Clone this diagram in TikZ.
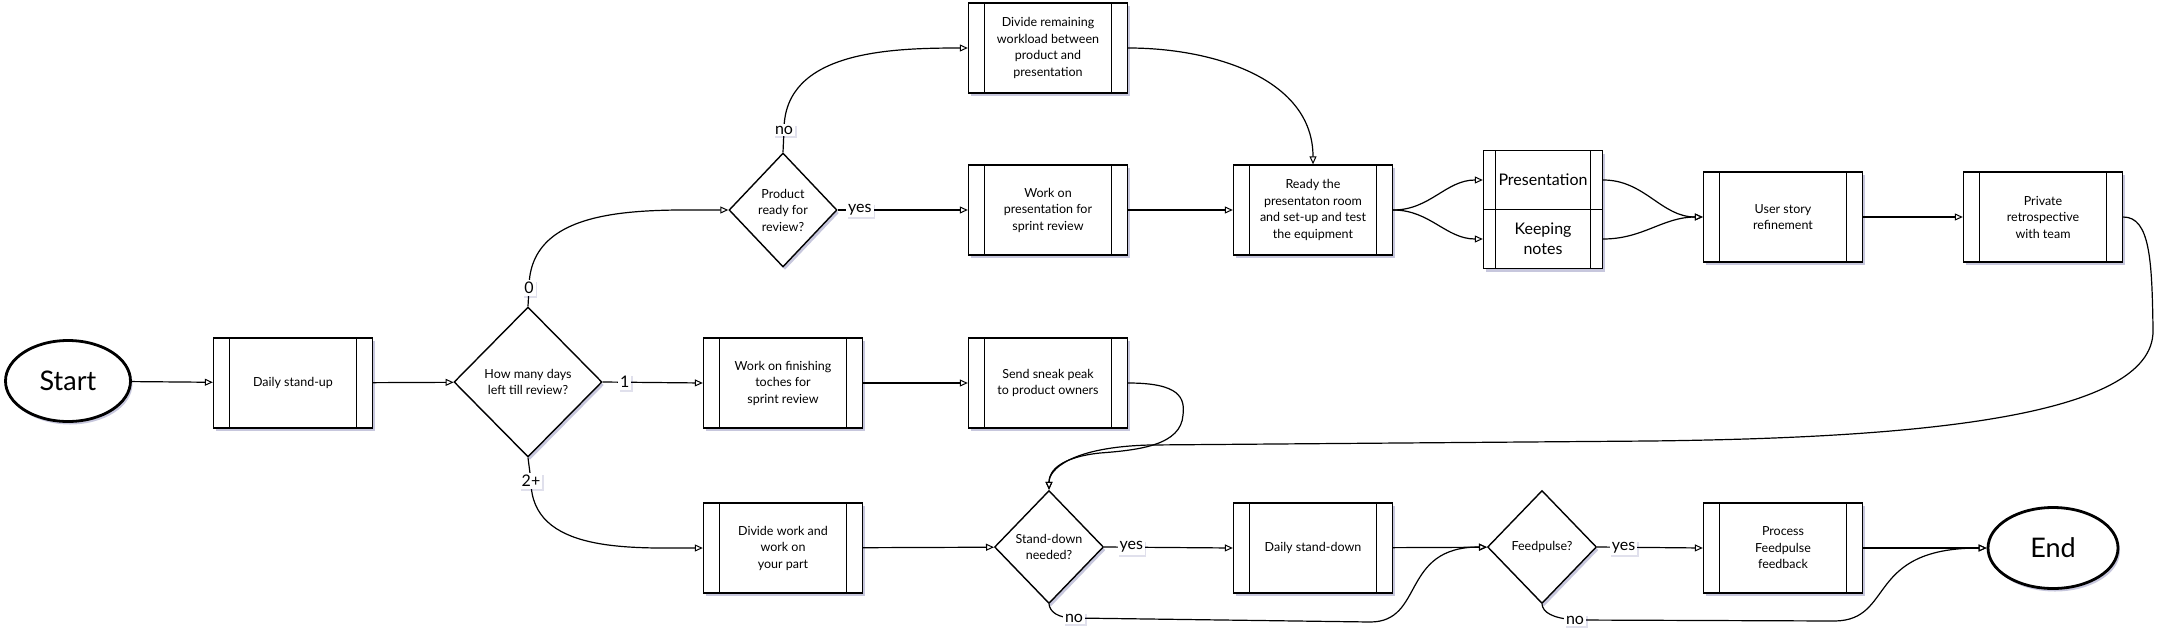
\documentclass[tikz,border=0pt]{standalone}
\usepackage{fontspec}
\setmainfont{Lato}
\usetikzlibrary{arrows.meta,shapes.geometric,shadows,calc}
\begin{document}
\begin{tikzpicture}[x=1pt,y=-1pt,
  shad/.style={drop shadow={shadow xshift=2pt,shadow yshift=-3pt,opacity=0.22,fill=black!60!blue}},
  proc/.style={draw,line width=1.4pt,fill=white,shad,minimum width=159pt,minimum height=90pt,
    inner sep=1pt,align=center,font=\fontsize{12.5}{16.5}\selectfont,
    path picture={
      \draw[line width=1pt] ($(path picture bounding box.north west)!0.1!(path picture bounding box.north east)$) -- ($(path picture bounding box.south west)!0.1!(path picture bounding box.south east)$);
      \draw[line width=1pt] ($(path picture bounding box.north west)!0.9!(path picture bounding box.north east)$) -- ($(path picture bounding box.south west)!0.9!(path picture bounding box.south east)$);
    }},
  smallproc/.style={proc,minimum width=119pt,minimum height=59pt,font=\fontsize{16}{20}\selectfont},
  dec/.style={draw,diamond,line width=1.4pt,fill=white,shad,inner sep=0pt,align=center,font=\fontsize{12.5}{16.5}\selectfont},
  term/.style={draw,ellipse,line width=2.8pt,fill=white,shad,minimum width=125pt,minimum height=81pt,font=\fontsize{27}{30}\selectfont},
  conn/.style={line width=1.2pt,-{Triangle[open,length=8pt,width=7pt,line width=1pt]}},
  lab/.style={fill=white,inner sep=2pt,drop shadow={shadow xshift=1.5pt,shadow yshift=-2pt,opacity=0.12,fill=black!60!blue},font=\fontsize{16}{17}\selectfont}
]
\useasboundingbox[fill=white] (0,0) rectangle (2162,637);

% nodes
\node[term] (start) at (68,381) {Start};
\node[proc] (dsu) at (293,383) {Daily stand-up};
\node[dec,minimum width=148pt,minimum height=150pt] (d1) at (528,382) {How many days\\left till review?};
\node[dec,minimum width=108pt,minimum height=114pt] (d2) at (783,210) {Product\\ready for\\review?};
\node[proc] (divrem) at (1048,48) {Divide remaining\\workload between\\product and\\presentation};
\node[proc] (wp) at (1048,210) {Work on\\presentation for\\sprint review};
\node[proc] (ready) at (1313,210) {Ready the\\presentaton room\\and set-up and test\\the equipment};
\node[smallproc] (pres) at (1543,180) {Presentation};
\node[smallproc] (notes) at (1543,239) {Keeping\\notes};
\node[proc] (us) at (1783,217) {User story\\refinement};
\node[proc] (retro) at (2043,217) {Private\\retrospective\\with team};
\node[proc] (fin) at (783,383) {Work on finishing\\toches for\\sprint review};
\node[proc] (sneak) at (1048,383) {Send sneak peak\\to product owners};
\node[proc] (divw) at (783,548) {Divide work and\\work on\\your part};
\node[dec,minimum width=109pt,minimum height=113pt] (sd) at (1049,547) {Stand-down\\needed?};
\node[proc] (dsd) at (1313,548) {Daily stand-down};
\node[dec,minimum width=109pt,minimum height=113pt] (fp) at (1542,547) {Feedpulse?};
\node[proc] (pf) at (1783,548) {Process\\Feedpulse\\feedback};
\node[term,minimum width=130pt] (end) at (2053,548) {End};

% label anchor coordinates
\coordinate (l0) at (529,288);
\coordinate (l2) at (531,481);
\coordinate (lno1) at (784,130);
\coordinate (lno2) at (1074,618);
\coordinate (lno3) at (1575,620);

% connectors
\draw[conn] (start) -- (dsu);
\draw[conn] (dsu) -- (d1);
\draw[conn] (d1.north) -- (l0) to[out=90,in=180] (d2.west);
\draw[conn] (d1.east) -- node[lab,pos=0.22]{1} (fin.west);
\draw[conn] (d1.south) -- (l2) to[out=-90,in=180] (divw.west);
\draw[conn] (d2.east) -- node[lab,pos=0.17]{yes} (wp.west);
\draw[conn] (d2.north) -- (lno1) to[out=90,in=180] (divrem.west);
\draw[conn] (divrem.east) to[out=0,in=90] (ready.north);
\draw[conn] (wp) -- (ready);
\draw[conn] (ready.east) to[out=0,in=180] (pres.west);
\draw[conn] (ready.east) to[out=0,in=180] (notes.west);
\draw[conn] (pres.east) to[out=0,in=180] (us.west);
\draw[conn] (notes.east) to[out=0,in=180] (us.west);
\draw[conn] (us) -- (retro);
\coordinate (r1) at (2153,330);
\coordinate (r2) at (1650,441);
\coordinate (r3) at (1150,445);
\draw[conn] (retro.east) .. controls (2150,217) and (2152,260) .. (r1)
  .. controls (2155,420) and (1900,438) .. (r2) -- (r3)
  .. controls (1070,447) and (1049,470) .. (sd.north);
\coordinate (s1) at (1183,415);
\coordinate (s2) at (1100,453);
\draw[conn] (sneak.east) .. controls (1180,383) and (1185,398) .. (s1)
  .. controls (1181,445) and (1140,450) .. (s2)
  .. controls (1062,457) and (1049,470) .. (sd.north);
\draw[conn] (fin) -- (sneak);
\draw[conn] (divw) -- (sd);
\draw[conn] (sd.east) -- node[lab,pos=0.21]{yes} (dsd.west);
\draw[conn] (dsd) -- (fp);
\coordinate (n1) at (1370,622);
\draw[conn] (sd.south) .. controls (1050,612) and (1058,618) .. (lno2) -- (n1)
  .. controls (1425,622) and (1400,547) .. (fp.west);
\draw[conn] (fp.east) -- node[lab,pos=0.25]{yes} (pf.west);
\draw[conn] (pf) -- (end);
\coordinate (n2) at (1835,621);
\draw[conn] (fp.south) .. controls (1543,612) and (1551,618) .. (lno3) -- (n2)
  .. controls (1895,620) and (1865,548) .. (end.west);

% curve labels
\node[lab] at (l0) {0};
\node[lab] at (l2) {2+};
\node[lab] at (lno1) {no};
\node[lab] at (lno2) {no};
\node[lab] at (lno3) {no};
\end{tikzpicture}
\end{document}
